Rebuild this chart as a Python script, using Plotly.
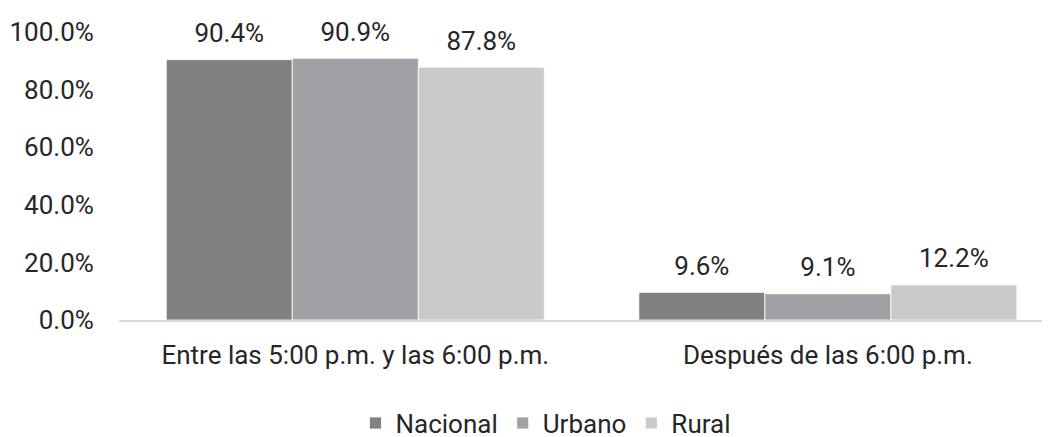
import plotly.graph_objects as go

categories = ["Entre las 5:00 p.m. y las 6:00 p.m.", "Después de las 6:00 p.m."]
series_names = ["Nacional", "Urbano", "Rural"]
nacional = [90.4, 9.6]
urbano = [90.9, 9.1]
rural = [87.8, 12.2]
y_ticks = [0, 20, 40, 60, 80, 100]

colors = ["#808083", "#a0a1a4", "#c9cacc"]
font = "Roboto, Arial, sans-serif"

fig = go.Figure()

# bars
for name, vals, col in zip(series_names, [nacional, urbano, rural], colors):
    fig.add_trace(go.Bar(
        x=categories, y=vals, name=name,
        marker=dict(color=col, line=dict(color="white", width=0.8)),
    ))

# value labels sit a bit higher than plotly's own "outside" text,
# so use grouped text-only scatter traces with an invisible marker as spacer
for name, vals in zip(series_names, [nacional, urbano, rural]):
    fig.add_trace(go.Scatter(
        x=categories, y=vals, mode="markers+text",
        text=[f"{v:.1f}%" for v in vals], textposition="top center",
        textfont=dict(family=font, size=26, color="#262626"),
        marker=dict(size=16, color="rgba(0,0,0,0)"),
        showlegend=False, hoverinfo="skip", cliponaxis=False,
    ))

# the page body has an 8px margin, so margins are trimmed to compensate
fig.update_layout(
    width=1050, height=437,
    barmode="group", bargap=0.2, bargroupgap=0,
    scattermode="group", scattergap=0.2,
    plot_bgcolor="white", paper_bgcolor="white",
    margin=dict(l=111, r=0, t=24, b=125, autoexpand=False),
    font=dict(family=font, size=26, color="#262626"),
    showlegend=True,
    legend=dict(orientation="h", x=0.4547, xanchor="center", y=-0.358, yanchor="middle",
                font=dict(size=26), itemclick=False),
)

fig.update_xaxes(
    range=[-0.5, 1.487], showgrid=False, automargin=False,
    showline=True, linecolor="#d9d9d9", linewidth=2,
    ticks="outside", ticklen=11, tickcolor="rgba(0,0,0,0)",
    tickfont=dict(size=26),
)
fig.update_yaxes(
    range=[0, 100], tickvals=y_ticks, ticktext=[f"{t:.1f}%" for t in y_ticks],
    showgrid=False, zeroline=False, showline=False, automargin=False,
    ticks="outside", ticklen=19, tickcolor="rgba(0,0,0,0)",
    tickfont=dict(size=26),
)

fig.write_html("out.html")
